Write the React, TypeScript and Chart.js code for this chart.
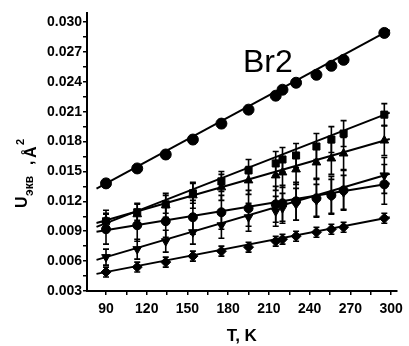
import React, { useEffect, useRef } from "react";
import { Chart, registerables } from "chart.js";

Chart.register(...registerables);

// ---- data ----
const temps = [90, 113, 134, 154, 175, 195, 215, 220, 230, 245, 256, 265, 295];

const uTop = [0.0138, 0.0153, 0.0167, 0.0182, 0.0198, 0.0212, 0.0226, 0.0232, 0.0239, 0.0247, 0.0256, 0.0262, 0.0289];
const errTop = [0.0004, 0.0004, 0.0004, 0.0004, 0.0004, 0.0004, 0.0004, 0.0004, 0.0004, 0.0004, 0.0004, 0.0004, 0.0004];

const uSquares = [0.0100, 0.0109, 0.0117, 0.0128, 0.0140, 0.0151, 0.0158, 0.0162, 0.0166, 0.0175, 0.0182, 0.0188, 0.0207];
const errSquares = [0.0008, 0.0008, 0.0009, 0.0010, 0.0010, 0.0011, 0.0012, 0.0012, 0.0012, 0.0013, 0.0013, 0.0013, 0.0011];

const uTriUp = [0.0101, 0.0107, 0.0116, 0.0126, 0.0134, 0.0141, 0.0146, 0.0149, 0.0152, 0.0159, 0.0163, 0.0168, 0.0181];
const errTriUp = [0.0010, 0.0011, 0.0012, 0.0013, 0.0013, 0.0014, 0.0015, 0.0015, 0.0015, 0.0016, 0.0016, 0.0016, 0.0015];

const uCircles = [0.0092, 0.0096, 0.0100, 0.0104, 0.0109, 0.0113, 0.0117, 0.0118, 0.0120, 0.0123, 0.0126, 0.0131, 0.0137];
const errCircles = [0.0015, 0.0016, 0.0016, 0.0017, 0.0017, 0.0018, 0.0018, 0.0018, 0.0019, 0.0019, 0.0019, 0.0020, 0.0020];

const uTriDown = [0.0064, 0.0072, 0.0080, 0.0089, 0.0096, 0.0104, 0.0110, 0.0113, 0.0117, 0.0121, 0.0125, 0.0129, 0.0146];
const errTriDown = [0.0008, 0.0010, 0.0011, 0.0012, 0.0013, 0.0014, 0.0015, 0.0015, 0.0016, 0.0016, 0.0017, 0.0017, 0.0018];

const uDiamonds = [0.0049, 0.0054, 0.0059, 0.0065, 0.0070, 0.0074, 0.0080, 0.0082, 0.0085, 0.0089, 0.0092, 0.0094, 0.0103];
const errDiamonds = [0.0005, 0.0005, 0.0005, 0.0005, 0.0005, 0.0005, 0.0005, 0.0005, 0.0005, 0.0005, 0.0005, 0.0005, 0.0005];

// linear-fit lines (end points)
const fitT = [83, 299];
const fitTop = [0.01328, 0.0292];
const fitSquares = [0.00943, 0.0209];
const fitTriUp = [0.00983, 0.01826];
const fitCircles = [0.00894, 0.01379];
const fitTriDown = [0.00612, 0.01476];
const fitDiamonds = [0.00472, 0.01041];

const xMajorTicks = [90, 120, 150, 180, 210, 240, 270, 300];
const xMinorTicks = [105, 135, 165, 195, 225, 255, 285];
const yMajorTicks = [0.003, 0.006, 0.009, 0.012, 0.015, 0.018, 0.021, 0.024, 0.027, 0.03];
const yMinorTicks = [0.0045, 0.0075, 0.0105, 0.0135, 0.0165, 0.0195, 0.0225, 0.0255, 0.0285];
const yTickLabels = ["0.003", "0.006", "0.009", "0.012", "0.015", "0.018", "0.021", "0.024", "0.027", "0.030"];

const chartTitle = "Br2";
const xTitle = "T, K";

const pts = (ys: number[], xs: number[]) => xs.map((x, i) => ({ x, y: ys[i] }));

const errorBarPlugin = {
  id: "errorBars",
  afterDatasetsDraw(chart: any) {
    const ctx = chart.ctx;
    const xs = chart.scales.x;
    const ys = chart.scales.y;
    ctx.save();
    ctx.strokeStyle = "#000";
    ctx.lineWidth = 1.6;
    chart.data.datasets.forEach((ds: any) => {
      if (!ds.errors) return;
      ds.data.forEach((p: any, i: number) => {
        const e = ds.errors[i];
        const px = xs.getPixelForValue(p.x);
        const y1 = ys.getPixelForValue(p.y + e);
        const y2 = ys.getPixelForValue(p.y - e);
        ctx.beginPath();
        ctx.moveTo(px, y1);
        ctx.lineTo(px, y2);
        ctx.moveTo(px - 3, y1);
        ctx.lineTo(px + 3, y1);
        ctx.moveTo(px - 3, y2);
        ctx.lineTo(px + 3, y2);
        ctx.stroke();
      });
    });
    ctx.restore();
  },
};

const textPlugin = {
  id: "texts",
  afterDraw(chart: any) {
    const ctx = chart.ctx;
    const area = chart.chartArea;
    ctx.save();
    ctx.fillStyle = "#000";
    // Br2 label
    ctx.font = "32px 'Liberation Sans', Arial, sans-serif";
    ctx.textAlign = "left";
    ctx.textBaseline = "alphabetic";
    ctx.fillText(chartTitle, 243, 72);
    // x title
    ctx.font = "bold 17px 'Liberation Sans', Arial, sans-serif";
    ctx.textAlign = "center";
    ctx.fillText(xTitle, (area.left + area.right) / 2, 341);
    // y title (rotated)
    ctx.translate(0, 208);
    ctx.rotate(-Math.PI / 2);
    ctx.textAlign = "left";
    ctx.font = "bold 16px 'Liberation Sans', Arial, sans-serif";
    ctx.fillText("U", 0, 27);
    ctx.font = "bold 12px 'Liberation Sans', Arial, sans-serif";
    ctx.fillText("экв", 12, 33);
    ctx.font = "bold 16px 'Liberation Sans', Arial, sans-serif";
    ctx.fillText(",", 43, 33);
    ctx.fillText("Å", 50, 36);
    ctx.font = "bold 11px 'Liberation Sans', Arial, sans-serif";
    ctx.fillText("2", 63, 24);
    ctx.restore();
  },
};

export default function App() {
  const ref = useRef<HTMLCanvasElement>(null);
  useEffect(() => {
    if (!ref.current) return;
    const black = "#000";
    const pointSet = (data: any, errors: number[], style: string, radius: number, rotation = 0) => ({
      type: "scatter",
      data,
      errors,
      showLine: false,
      pointStyle: style,
      pointRadius: radius,
      pointRotation: rotation,
      backgroundColor: black,
      borderColor: black,
      borderWidth: 1,
    });
    const lineSet = (data: any) => ({
      type: "scatter",
      data,
      showLine: true,
      pointRadius: 0,
      borderColor: black,
      borderWidth: 2,
      fill: false,
    });
    const chart = new Chart(ref.current, {
      type: "scatter",
      data: {
        datasets: [
          lineSet(pts(fitTop, fitT)),
          lineSet(pts(fitSquares, fitT)),
          lineSet(pts(fitTriUp, fitT)),
          lineSet(pts(fitCircles, fitT)),
          lineSet(pts(fitTriDown, fitT)),
          lineSet(pts(fitDiamonds, fitT)),
          pointSet(pts(uTop, temps), errTop, "circle", 5.5),
          pointSet(pts(uSquares, temps), errSquares, "rect", 5),
          pointSet(pts(uTriUp, temps), errTriUp, "triangle", 5),
          pointSet(pts(uCircles, temps), errCircles, "circle", 4.5),
          pointSet(pts(uTriDown, temps), errTriDown, "triangle", 5, 180),
          pointSet(pts(uDiamonds, temps), errDiamonds, "rectRot", 5),
        ] as any,
      },
      options: {
        animation: false,
        responsive: false,
        devicePixelRatio: 1,
        layout: { padding: { top: 13, right: 12, left: 0, bottom: 0 } },
        plugins: { legend: { display: false }, tooltip: { enabled: false } },
        scales: {
          x: {
            type: "linear",
            min: 76,
            max: 304,
            afterBuildTicks: (s: any) => {
              s.ticks = [...xMajorTicks, ...xMinorTicks].sort((a, b) => a - b).map((v) => ({ value: v }));
            },
            afterFit: (s: any) => {
              s.height = 55;
            },
            ticks: {
              autoSkip: false,
              maxRotation: 0,
              padding: 6,
              color: black,
              font: { family: "'Liberation Sans', Arial, sans-serif", size: 14, weight: "bold" },
              callback: (v: any) => (xMajorTicks.includes(v) ? String(v) : ""),
            },
            grid: { drawOnChartArea: false, drawTicks: true, tickLength: 4, color: black, lineWidth: 1.5 },
            border: { color: black, width: 2 },
          },
          y: {
            type: "linear",
            min: 0.003,
            max: 0.0309,
            afterBuildTicks: (s: any) => {
              s.ticks = [...yMajorTicks, ...yMinorTicks].sort((a, b) => a - b).map((v) => ({ value: v }));
            },
            afterFit: (s: any) => {
              s.width = 87;
            },
            ticks: {
              autoSkip: false,
              padding: 1,
              color: black,
              font: { family: "'Liberation Sans', Arial, sans-serif", size: 14, weight: "bold" },
              callback: (v: any) => {
                const i = yMajorTicks.findIndex((t) => Math.abs(t - v) < 1e-7);
                return i >= 0 ? yTickLabels[i] : "";
              },
            },
            grid: { drawOnChartArea: false, drawTicks: true, tickLength: 4, color: black, lineWidth: 1.5 },
            border: { color: black, width: 2 },
          },
        },
      } as any,
      plugins: [errorBarPlugin, textPlugin],
    });
    return () => chart.destroy();
  }, []);
  return (
    <div style={{ position: "absolute", left: 0, top: 0, width: 409, height: 346, background: "#fff" }}>
      <canvas ref={ref} width={409} height={346} />
    </div>
  );
}
